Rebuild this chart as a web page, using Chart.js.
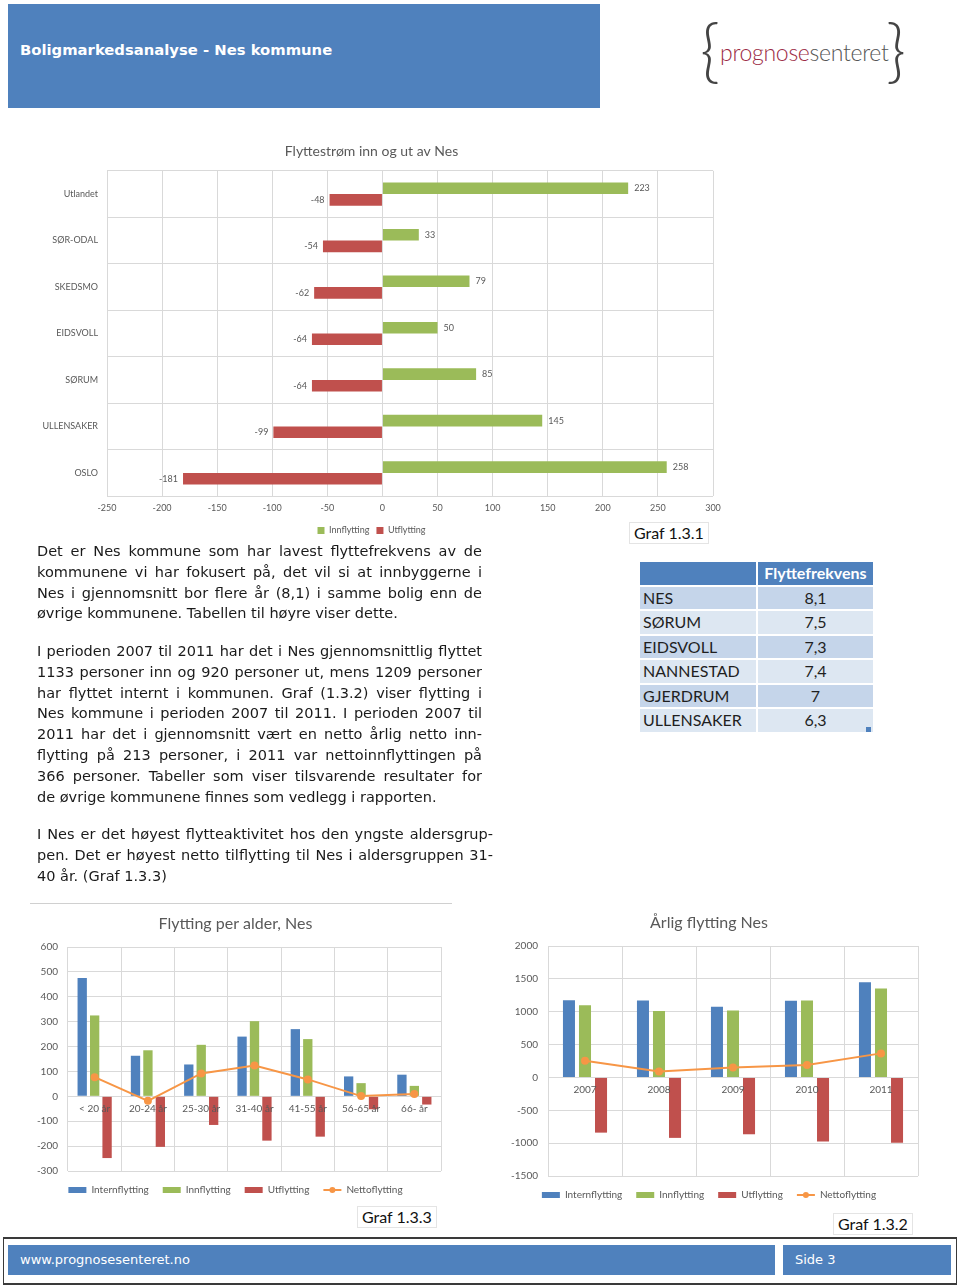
<!DOCTYPE html>
<html>
<head>
<meta charset="utf-8">
<script src="https://cdn.jsdelivr.net/npm/chart.js@4/dist/chart.umd.min.js"></script>
<style>
  body { margin: 0; width: 960px; height: 1287px; position: relative; background: #fff; font-family: "DejaVu Sans", Verdana, sans-serif; overflow: hidden; }
  .abs { position: absolute; }
  .header { left: 8px; top: 4px; width: 592px; height: 104px; background: #4F81BD; }
  .header span { position: absolute; left: 12px; top: 37px; color: #fff; font-weight: bold; font-size: 14.8px; }
  .logo { left: 700px; top: 14px; width: 210px; height: 80px; font-family: Lato, sans-serif; color: #555; }
  .brace { position: absolute; top: -6px; font-size: 68px; font-weight: 300; color: #444; }
  .logotext { position: absolute; left: 20px; top: 24px; font-size: 23px; font-weight: 300; letter-spacing: -0.3px; }
  .para { color: #1a1a1a; font-size: 14.5px; line-height: 20.8px; }
  .para div { text-align: justify; text-align-last: justify; white-space: nowrap; }
  .para div.last { text-align-last: left; }
  .caption { font-family: Lato, sans-serif; font-size: 16px; color: #111; background: #fff; border: 1px solid #e4e4e4; padding: 0 4px; line-height: 20px; }
  table { border-collapse: separate; border-spacing: 2px; font-family: Lato, sans-serif; font-size: 16px; color: #1f1f1f; }
  td { height: 22.5px; padding: 0 3px; line-height: 22px; }
  .footer { left: 3px; top: 1237px; width: 952px; height: 44px; border: 2px solid #3a3a3a; border-left-width: 1px; border-right-width: 1px; }
  .fbar { background: #4F81BD; color: #fff; font-size: 13px; line-height: 30px; height: 30px; }
</style>
</head>
<body>

<div class="abs header"><span>Boligmarkedsanalyse - Nes kommune</span></div>
<div class="abs logo">
  <span class="brace" style="left:0">{</span>
  <span class="logotext"><span style="color:#9b2a44">prognose</span><span style="color:#555">senteret</span></span>
  <span class="brace" style="left:186px">}</span>
</div>

<canvas id="flow" class="abs" style="left:30px;top:135px;width:700px;height:412px"></canvas>
<div class="abs caption" style="left:629px;top:522px">Graf 1.3.1</div>

<div class="abs para" style="left:37px;top:541px;width:445px">
  <div>Det er Nes kommune som har lavest flyttefrekvens av de</div>
  <div>kommunene vi har fokusert på, det vil si at innbyggerne i</div>
  <div>Nes i gjennomsnitt bor flere år (8,1) i samme bolig enn de</div>
  <div class="last">øvrige kommunene. Tabellen til høyre viser dette.</div>
</div>

<div class="abs para" style="left:37px;top:641px;width:445px">
  <div>I perioden 2007 til 2011 har det i Nes gjennomsnittlig flyttet</div>
  <div>1133 personer inn og 920 personer ut, mens 1209 personer</div>
  <div>har flyttet internt i kommunen. Graf (1.3.2) viser flytting i</div>
  <div>Nes kommune i perioden 2007 til 2011. I perioden 2007 til</div>
  <div>2011 har det i gjennomsnitt vært en netto årlig netto inn-</div>
  <div>flytting på 213 personer, i 2011 var nettoinnflyttingen på</div>
  <div>366 personer. Tabeller som viser tilsvarende resultater for</div>
  <div class="last">de øvrige kommunene finnes som vedlegg i rapporten.</div>
</div>

<div class="abs para" style="left:37px;top:824px;width:456px">
  <div>I Nes er det høyest flytteaktivitet hos den yngste aldersgrup-</div>
  <div>pen. Det er høyest netto tilflytting til Nes i aldersgruppen 31-</div>
  <div class="last">40 år. (Graf 1.3.3)</div>
</div>

<table id="freq" class="abs" style="left:638px;top:560px"></table>
<div class="abs" style="left:866px;top:727px;width:5px;height:5px;background:#4F81BD"></div>

<div class="abs" style="left:30px;top:903px;width:422px;height:1px;background:#d0d0d0"></div>
<canvas id="age" class="abs" style="left:30px;top:905px;width:425px;height:304px"></canvas>
<canvas id="year" class="abs" style="left:500px;top:905px;width:430px;height:309px"></canvas>
<div class="abs caption" style="left:357px;top:1206px">Graf 1.3.3</div>
<div class="abs caption" style="left:833px;top:1213px">Graf 1.3.2</div>

<div class="abs footer"></div>
<div class="abs fbar" style="left:8px;top:1245px;width:767px"><span style="padding-left:12px">www.prognosesenteret.no</span></div>
<div class="abs fbar" style="left:783px;top:1245px;width:168px"><span style="padding-left:12px">Side 3</span></div>

<script>
// Graf 1.3.1 - flyttestrøm
const places = ['Utlandet', 'SØR-ODAL', 'SKEDSMO', 'EIDSVOLL', 'SØRUM', 'ULLENSAKER', 'OSLO'];
const placeIn = [223, 33, 79, 50, 85, 145, 258];
const placeOut = [-48, -54, -62, -64, -64, -99, -181];

// flyttefrekvens table
const freqPlaces = ['NES', 'SØRUM', 'EIDSVOLL', 'NANNESTAD', 'GJERDRUM', 'ULLENSAKER'];
const freqValues = ['8,1', '7,5', '7,3', '7,4', '7', '6,3'];

// Graf 1.3.3 - flytting per alder
const ages = ['< 20 år', '20-24 år', '25-30 år', '31-40 år', '41-55 år', '56-65 år', '66- år'];
const ageIntern = [475, 163, 128, 240, 270, 80, 87];
const ageIn = [325, 185, 207, 302, 230, 53, 42];
const ageOut = [-248, -203, -115, -178, -162, -52, -33];
const ageNet = [77, -18, 92, 124, 68, 1, 9];

// Graf 1.3.2 - årlig flytting
const years = ['2007', '2008', '2009', '2010', '2011'];
const yearIntern = [1175, 1170, 1075, 1165, 1450];
const yearIn = [1100, 1010, 1020, 1170, 1355];
const yearOut = [-840, -920, -865, -975, -995];
const yearNet = [255, 90, 150, 190, 366];

const BLUE = '#4F81BD', GREEN = '#9BBB59', RED = '#C0504D', ORANGE = '#F79646';
const GRID = '#d9d9d9', TXT = '#595959';
const FONT = 'Lato, "Open Sans", sans-serif';

// table
const tbl = document.getElementById('freq');
let rows = '<tr><td style="background:#4F81BD;width:110px"></td><td style="background:#4F81BD;color:#fff;font-weight:bold;width:109px;text-align:center">Flyttefrekvens</td></tr>';
freqPlaces.forEach((p, i) => {
  const bg = i % 2 === 0 ? '#C5D5EA' : '#DDE7F2';
  rows += `<tr><td style="background:${bg}">${p}</td><td style="background:${bg};text-align:center">${freqValues[i]}</td></tr>`;
});
tbl.innerHTML = rows;

// values at the bar ends for the horizontal chart
const barValues = {
  id: 'barValues',
  afterDatasetsDraw(chart) {
    const ctx = chart.ctx;
    ctx.save();
    ctx.font = '9px ' + FONT;
    ctx.fillStyle = TXT;
    ctx.textBaseline = 'middle';
    chart.data.datasets.forEach((ds, di) => {
      chart.getDatasetMeta(di).data.forEach((el, i) => {
        const v = ds.data[i];
        ctx.textAlign = v < 0 ? 'right' : 'left';
        ctx.fillText(String(v), v < 0 ? el.x - 5 : el.x + 6, el.y);
      });
    });
    ctx.restore();
  }
};

// marker dot on the Nettoflytting legend line
const legendDot = {
  id: 'legendDot',
  afterDraw(chart) {
    const lg = chart.legend;
    if (!lg || !lg.legendHitBoxes) return;
    lg.legendItems.forEach((it, i) => {
      if (chart.data.datasets[it.datasetIndex].type !== 'line') return;
      const hb = lg.legendHitBoxes[i];
      const ctx = chart.ctx;
      ctx.save();
      ctx.fillStyle = ORANGE;
      ctx.beginPath();
      ctx.arc(hb.left + 9, hb.top + hb.height / 2, 3, 0, Math.PI * 2);
      ctx.fill();
      ctx.restore();
    });
  }
};

function setupCanvas(id, w, h) {
  const c = document.getElementById(id);
  c.width = w; c.height = h;
  return c;
}

new Chart(setupCanvas('flow', 700, 412), {
  type: 'bar',
  data: {
    labels: places,
    datasets: [
      { label: 'Innflytting', data: placeIn, backgroundColor: GREEN },
      { label: 'Utflytting', data: placeOut, backgroundColor: RED }
    ]
  },
  options: {
    indexAxis: 'y',
    responsive: false,
    animation: false,
    layout: { padding: { right: 17, bottom: 2 } },
    datasets: { bar: { barPercentage: 1, categoryPercentage: 0.5 } },
    scales: {
      x: {
        min: -250, max: 300,
        ticks: { stepSize: 50, color: TXT, font: { size: 9, family: FONT }, padding: 6 },
        grid: { color: GRID, drawTicks: false },
        border: { display: false }
      },
      y: {
        ticks: { color: TXT, font: { size: 9, family: FONT }, padding: 9 },
        grid: { color: GRID, drawTicks: false },
        border: { display: false },
        afterFit(s) { s.width = 77; }
      }
    },
    plugins: {
      title: { display: true, text: 'Flyttestrøm inn og ut av Nes', color: TXT, font: { size: 14, weight: 'normal', family: FONT }, padding: { top: 8, bottom: 11 } },
      legend: { position: 'bottom', labels: { boxWidth: 7, boxHeight: 7, color: TXT, font: { size: 9, family: FONT }, padding: 7 } },
      tooltip: { enabled: false }
    }
  },
  plugins: [barValues]
});

function legendItems(chart) {
  const items = Chart.defaults.plugins.legend.labels.generateLabels(chart);
  items.forEach(it => {
    const isLine = chart.data.datasets[it.datasetIndex].type === 'line';
    it.pointStyle = isLine ? 'line' : 'rect';
    if (isLine) { it.strokeStyle = ORANGE; it.lineWidth = 2; }
  });
  return items;
}

function comboChart(id, w, h, labels, intern, inn, ut, net, yMin, yMax, step, title, yWidth, catPct, pad) {
  return new Chart(setupCanvas(id, w, h), {
    type: 'bar',
    data: {
      labels: labels,
      datasets: [
        { type: 'line', label: 'Nettoflytting', data: net, borderColor: ORANGE, backgroundColor: ORANGE, borderWidth: 2, pointRadius: 3, pointBackgroundColor: ORANGE, order: 0 },
        { label: 'Internflytting', data: intern, backgroundColor: BLUE, order: 1 },
        { label: 'Innflytting', data: inn, backgroundColor: GREEN, order: 1 },
        { label: 'Utflytting', data: ut, backgroundColor: RED, order: 1 }
      ]
    },
    options: {
      responsive: false,
      animation: false,
      layout: { padding: { right: pad.right, bottom: 4 } },
      datasets: { bar: { barPercentage: 0.75, categoryPercentage: catPct } },
      scales: {
        x: {
          position: { y: 0 },
          ticks: { color: TXT, font: { size: 10, family: FONT }, padding: 6, z: 1 },
          grid: { color: GRID, drawTicks: false, offset: true },
          border: { display: false }
        },
        y: {
          min: yMin, max: yMax,
          ticks: { stepSize: step, color: TXT, font: { size: 10, family: FONT }, padding: 10, callback: v => String(v) },
          grid: { color: GRID, drawTicks: false },
          border: { display: false },
          afterFit(s) { s.width = yWidth; }
        }
      },
      plugins: {
        title: { display: true, text: title, color: TXT, font: { size: 16, weight: 'normal', family: FONT }, padding: { top: pad.titleTop, bottom: 13.4 } },
        legend: {
          position: 'bottom',
          labels: {
            usePointStyle: true, pointStyleWidth: 18, boxHeight: 6, color: TXT,
            font: { size: 10, family: FONT }, padding: pad.legend,
            generateLabels: legendItems,
            sort: (a, b) => (a.datasetIndex + 3) % 4 - (b.datasetIndex + 3) % 4
          }
        },
        tooltip: { enabled: false }
      }
    },
    plugins: [legendDot]
  });
}

comboChart('age', 425, 304, ages, ageIntern, ageIn, ageOut, ageNet, -300, 600, 100, 'Flytting per alder, Nes', 38, 0.7, { right: 14, titleTop: 9.4, legend: 14 });
comboChart('year', 430, 309, years, yearIntern, yearIn, yearOut, yearNet, -1500, 2000, 500, 'Årlig flytting Nes', 48, 0.65, { right: 12, titleTop: 8.4, legend: 14 });
</script>
</body>
</html>
